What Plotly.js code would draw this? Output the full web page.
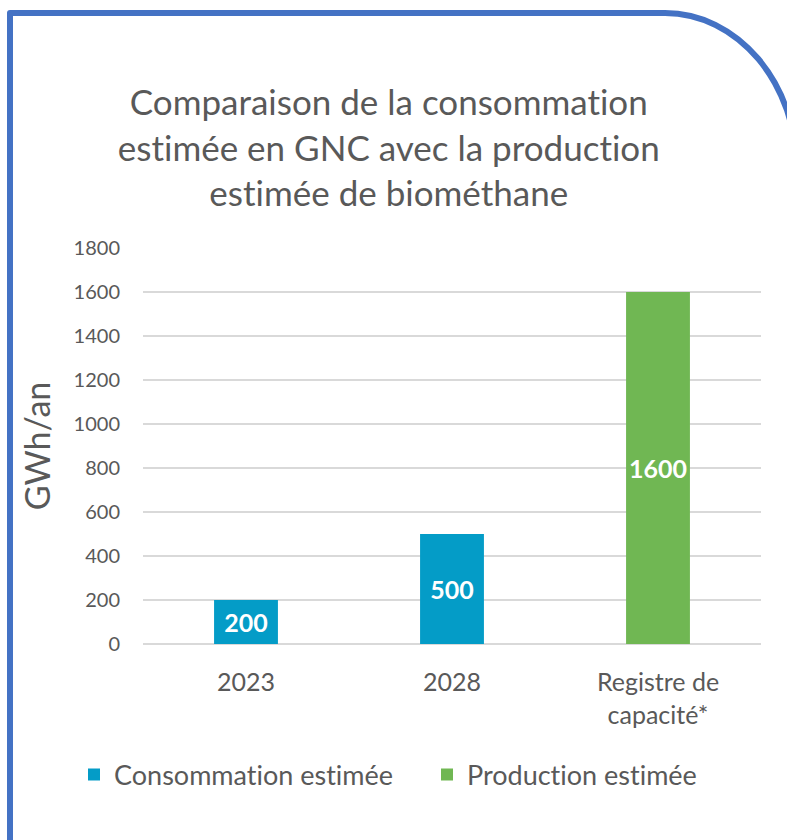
<!DOCTYPE html>
<html>
<head>
<meta charset="utf-8">
<script src="https://cdn.plot.ly/plotly-3.0.1.min.js"></script>
<style>
    body { margin: 0; background: #ffffff; overflow: hidden; }
    #chart { position: absolute; left: 0; top: 0; width: 787px; height: 840px; }
    #chart text { font-variant-ligatures: none; font-feature-settings: "liga" 0, "clig" 0; }
    #frame {
        position: absolute; left: 7px; top: 10px;
        width: 793px; height: 900px; box-sizing: border-box;
        border: 6px solid #4472C4;
        border-top-left-radius: 3px;
        border-top-right-radius: 135px 160px;
        pointer-events: none;
    }
</style>
</head>
<body>
<div id="chart"></div>
<div id="frame"></div>
<script>
// values (GWh/an)
let categories = ["2023", "2028", "Registre de<br>capacité*"];
let consumptionCats = ["2023", "2028"];
let consumptionValues = [200, 500];
let productionCats = ["Registre de<br>capacité*"];
let productionValues = [1600];
let yTicks = [0, 200, 400, 600, 800, 1000, 1200, 1400, 1600, 1800];

let textColor = '#595959';
let fontName = 'Lato, "Open Sans", sans-serif';

let consumptionTrace = {
    x: consumptionCats,
    y: consumptionValues,
    type: 'bar',
    name: 'Consommation estimée',
    legend: 'legend',
    width: 0.31,
    text: consumptionValues.map(String),
    textposition: 'inside',
    insidetextanchor: 'middle',
    textangle: 0,
    constraintext: 'none',
    textfont: { color: '#ffffff', size: 25, family: fontName, weight: 'bold' },
    marker: { color: '#049CC7' }, // teal blue
    hoverinfo: 'none'
};

let productionTrace = {
    x: productionCats,
    y: productionValues,
    type: 'bar',
    name: 'Production estimée',
    legend: 'legend2', // own legend so the gap between the two entries can be set
    width: 0.31,
    text: productionValues.map(String),
    textposition: 'inside',
    insidetextanchor: 'middle',
    textangle: 0,
    constraintext: 'none',
    textfont: { color: '#ffffff', size: 25, family: fontName, weight: 'bold' },
    marker: { color: '#70B753' }, // green
    hoverinfo: 'none'
};

let legendBase = {
    orientation: 'h',
    xanchor: 'left',
    xref: 'container',
    yref: 'container', y: 1 - 775 / 840, yanchor: 'middle',
    font: { size: 27, color: textColor },
    itemwidth: 30
};

let layout = {
    width: 787,
    height: 840,
    margin: { l: 143, r: 26, t: 248, b: 196 },
    barmode: 'overlay',
    font: { family: fontName, color: textColor },
    title: {
        text: "Comparaison de la consommation<br>estimée en GNC avec la production<br>estimée de biométhane",
        font: { size: 35, color: textColor, family: fontName },
        xref: 'container', x: 0.494, xanchor: 'center',
        yref: 'container', y: 1 - 115 / 840, yanchor: 'top'
    },
    xaxis: {
        type: 'category',
        categoryorder: 'array',
        categoryarray: categories,
        range: [-0.5, 2.5],
        showgrid: false,
        zeroline: false,
        showline: false,
        ticks: '',
        ticklabelstandoff: 21,
        tickfont: { size: 25, color: textColor }
    },
    yaxis: {
        title: { text: "GWh/an", font: { size: 34, color: textColor }, standoff: 12 },
        range: [0, 1800],
        tickvals: yTicks,
        showgrid: true,
        gridcolor: '#D9D9D9',
        gridwidth: 1.5,
        zeroline: true,
        zerolinecolor: '#D9D9D9',
        zerolinewidth: 1.5,
        ticks: '',
        ticklabelstandoff: 22,
        tickfont: { size: 20, color: textColor }
    },
    showlegend: true,
    legend: Object.assign({}, legendBase, { x: 74 / 787 }),
    legend2: Object.assign({}, legendBase, { x: 427 / 787 }),
    paper_bgcolor: '#ffffff',
    plot_bgcolor: '#ffffff'
};

Plotly.newPlot('chart', [consumptionTrace, productionTrace], layout, { displayModeBar: false, staticPlot: true });
</script>
</body>
</html>
